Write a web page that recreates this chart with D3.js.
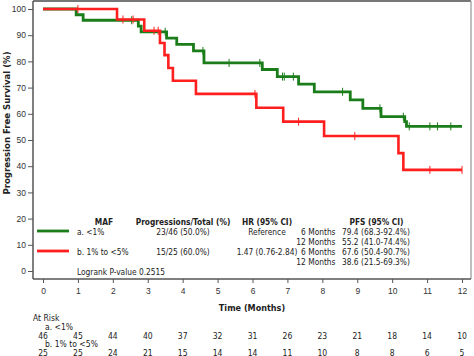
<!DOCTYPE html>
<html><head><meta charset="utf-8">
<script src="https://cdn.jsdelivr.net/npm/d3@7/dist/d3.min.js"></script>
<style>
body{margin:0;background:#fff;}
svg{display:block;}
.t{font-family:'DejaVu Sans Condensed','DejaVu Sans',sans-serif;font-size:8.3px;fill:#222;}
.b{font-weight:bold;}
.tick{font-family:'Liberation Sans',Arial,sans-serif;font-size:8.5px;fill:#333;}
</style></head><body>
<svg id="c" width="474" height="356"></svg>
<script>
// ---- data ----
const monthTicks = [0,1,2,3,4,5,6,7,8,9,10,11,12];
const survTicks = [0,10,20,30,40,50,60,70,80,90,100];
const groups = ["a. <1%", "b. 1% to <5%"];
const colors = ["#1a7d1a", "#ff1f1f"];

const greenTimes = [0, 0.95, 1.15, 2.73, 2.81, 3.54, 3.83, 4.31, 4.61, 6.28, 6.71, 7.32, 7.77, 8.80, 9.16, 9.68, 10.36, 10.41];
const greenSurv  = [100, 97.8, 95.7, 93.5, 91.3, 88.9, 86.5, 84.0, 79.4, 76.9, 74.2, 71.3, 68.4, 65.3, 62.1, 58.9, 57.0, 55.2];
const greenEnd = 12.0;
const greenCensor = [2.54, 3.50, 4.58, 5.33, 6.21, 6.86, 6.91, 7.17, 8.58, 9.65, 10.32, 10.49, 11.08, 11.30, 11.68];

const redTimes = [0, 2.12, 2.90, 3.35, 3.48, 3.59, 3.72, 4.38, 6.11, 6.88, 8.05, 10.18, 10.32];
const redSurv  = [100, 96.0, 91.7, 87.0, 82.4, 77.5, 72.6, 67.6, 62.3, 57.0, 51.5, 45.0, 38.6];
const redEnd = 12.0;
const redCensor = [1.0, 2.29, 2.58, 3.18, 3.30, 6.07, 7.32, 8.93, 11.08, 12.0];

const atRiskA = [46,45,44,40,37,32,31,26,23,21,18,14,10];
const atRiskB = [25,25,24,21,15,14,14,11,10,8,8,6,5];

const legendHeaders = ["MAF", "Progressions/Total (%)", "HR (95% CI)", "PFS (95% CI)"];
const progTotals = ["23/46 (50.0%)", "15/25 (60.0%)"];
const hrs = ["Reference", "1.47 (0.76-2.84)"];
const pfsLabels = ["6 Months", "12 Months", "6 Months", "12 Months"];
const pfsValues = ["79.4 (68.3-92.4%)", "55.2 (41.0-74.4%)", "67.6 (50.4-90.7%)", "38.6 (21.5-69.3%)"];
const logrank = "Logrank P-value 0.2515";

// ---- drawing ----
const svg = d3.select("#c");
const x = d3.scaleLinear().domain([0,12]).range([43,462]);
const y = d3.scaleLinear().domain([0,100]).range([271,9]);
const L=33, R=471, T=1, B=279;

// frame
svg.append("line").attr("x1",L).attr("x2",R).attr("y1",T).attr("y2",T).attr("stroke","#777").attr("stroke-width",2);
svg.append("line").attr("x1",R).attr("x2",R).attr("y1",T).attr("y2",B).attr("stroke","#aaa").attr("stroke-width",1.5);

// axes
const yAxis = d3.axisLeft(y).tickValues(survTicks).tickSize(5).tickPadding(2);
const gy = svg.append("g").attr("transform",`translate(${L},0)`).call(yAxis);
gy.select(".domain").attr("d",`M0,${T}V${B}`).attr("stroke","#555").attr("stroke-width",1.5);
gy.selectAll(".tick line").attr("stroke","#555");
gy.selectAll(".tick text").attr("class","tick");

const xAxis = d3.axisBottom(x).tickValues(monthTicks).tickSize(4).tickPadding(5);
const gx = svg.append("g").attr("transform",`translate(0,${B})`).call(xAxis);
gx.select(".domain").attr("d",`M${L},0H${R}`).attr("stroke","#555").attr("stroke-width",1.5);
gx.selectAll(".tick line").attr("stroke","#555");
gx.selectAll(".tick text").attr("class","tick");

svg.append("text").attr("class","t b").attr("transform","translate(10,123) rotate(-90)")
  .attr("text-anchor","middle").style("font-size","9.5px").text("Progression Free Survival (%)");
svg.append("text").attr("class","t b").attr("x",252).attr("y",311)
  .attr("text-anchor","middle").style("font-size","9px").text("Time (Months)");

// curves
function stepData(times, surv, end){
  const d = times.map((t,i)=>({t, s:surv[i]}));
  d.push({t:end, s:surv[surv.length-1]});
  return d;
}
function survAt(times, surv, t){
  let s = surv[0];
  for(let i=0;i<times.length;i++){ if(times[i] <= t) s = surv[i]; }
  return s;
}
const line = d3.line().x(d=>x(d.t)).y(d=>y(d.s)).curve(d3.curveStepAfter);
const curves = [
  {times:greenTimes, surv:greenSurv, end:greenEnd, cens:greenCensor, color:colors[0], w:2.8},
  {times:redTimes, surv:redSurv, end:redEnd, cens:redCensor, color:colors[1], w:2.6}
];
curves.forEach(c=>{
  svg.append("path").datum(stepData(c.times,c.surv,c.end)).attr("d",line)
    .attr("fill","none").attr("stroke",c.color).attr("stroke-width",c.w);
  svg.selectAll(null).data(c.cens).enter().append("line")
    .attr("x1",d=>x(d)).attr("x2",d=>x(d))
    .attr("y1",d=>y(survAt(c.times,c.surv,d))-4).attr("y2",d=>y(survAt(c.times,c.surv,d))+4)
    .attr("stroke",c.color).attr("stroke-width",1);
});

// legend
const hy = 224.5, r1 = 234.5, r2 = 254.5;
const colX = [104, 183, 267, 376.5];
legendHeaders.forEach((h,i)=>{
  svg.append("text").attr("class","t b").attr("x",colX[i]).attr("y",hy).attr("text-anchor","middle").text(h);
});
[r1,r2].forEach((ry,i)=>{
  svg.append("line").attr("x1",37).attr("x2",69).attr("y1",ry-3.5).attr("y2",ry-3.5)
    .attr("stroke",colors[i]).attr("stroke-width",2.8);
  svg.append("text").attr("class","t").attr("x",77).attr("y",ry).text(groups[i]);
  svg.append("text").attr("class","t").attr("x",colX[1]).attr("y",ry).attr("text-anchor","middle").text(progTotals[i]);
  svg.append("text").attr("class","t").attr("x",colX[2]).attr("y",ry).attr("text-anchor","middle").text(hrs[i]);
});
pfsLabels.forEach((p,i)=>{
  const yy = r1 + i*10;
  svg.append("text").attr("class","t").attr("x",335.5).attr("y",yy).attr("text-anchor","end").text(p);
  svg.append("text").attr("class","t").attr("x",342).attr("y",yy).text(pfsValues[i]);
});
svg.append("text").attr("class","t").attr("x",77).attr("y",274.5).text(logrank);

// at risk
svg.append("text").attr("class","t").attr("x",33).attr("y",321).style("font-size","8.5px").text("At Risk");
svg.append("text").attr("class","t").attr("x",45).attr("y",329.5).style("font-size","8.5px").text(groups[0]);
svg.append("text").attr("class","t").attr("x",45).attr("y",347).style("font-size","8.5px").text(groups[1]);
svg.selectAll(null).data(atRiskA).enter().append("text").attr("class","t").style("font-size","8.5px")
  .attr("x",(d,i)=>x(monthTicks[i])).attr("y",338.5).attr("text-anchor","middle").text(d=>d);
svg.selectAll(null).data(atRiskB).enter().append("text").attr("class","t").style("font-size","8.5px")
  .attr("x",(d,i)=>x(monthTicks[i])).attr("y",355.5).attr("text-anchor","middle").text(d=>d);
</script>
</body></html>
